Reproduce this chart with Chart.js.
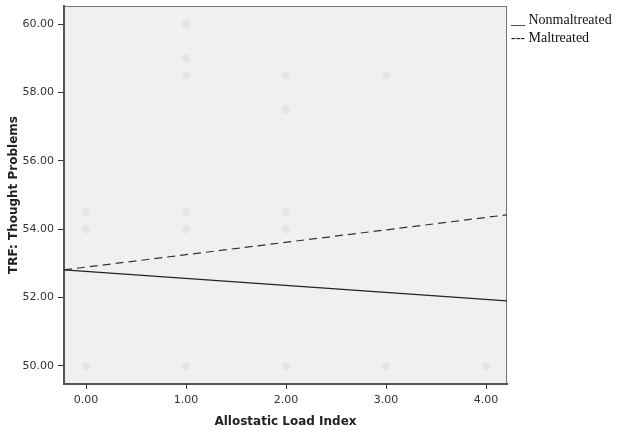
<!DOCTYPE html>
<html>
<head>
<meta charset="utf-8">
<script src="https://cdn.jsdelivr.net/npm/chart.js@4/dist/chart.umd.min.js"></script>
<style>
  html, body { margin: 0; padding: 0; background: #fff; }
  #wrap { position: relative; width: 624px; height: 431px; }
  .legend { position: absolute; left: 511px; font-family: "Liberation Serif", "DejaVu Serif", serif; font-size: 14px; color: #111; white-space: pre; }
</style>
</head>
<body>
<div id="wrap">
  <canvas id="chart" width="624" height="431"></canvas>
  <div class="legend" style="top:12px">__ Nonmaltreated</div>
  <div class="legend" style="top:30px">--- Maltreated</div>
</div>
<script>
// Scatter points (allostatic load, TRF score)
const pointX = [0, 0, 0, 1, 1, 1, 1, 1, 1, 2, 2, 2, 2, 2, 3, 3, 4];
const pointY = [54.5, 54.0, 50.0, 60.0, 59.0, 58.5, 54.5, 54.0, 50.0, 58.5, 57.5, 54.5, 54.0, 50.0, 58.5, 50.0, 50.0];

// Fit lines, end points at the axis limits
const lineX = [-0.22, 4.21];
const nonmaltreatedY = [52.81, 51.90];
const maltreatedY = [52.81, 54.42];

const xTicks = [0, 1, 2, 3, 4];
const yTicks = [50, 52, 54, 56, 58, 60];

const points = pointX.map((x, i) => ({ x: x, y: pointY[i] }));
const nonLine = lineX.map((x, i) => ({ x: x, y: nonmaltreatedY[i] }));
const malLine = lineX.map((x, i) => ({ x: x, y: maltreatedY[i] }));

// Gray plot background and thin frame
const plotFrame = {
    id: 'plotFrame',
    beforeDraw(chart) {
        const a = chart.chartArea;
        const ctx = chart.ctx;
        ctx.save();
        ctx.fillStyle = '#f0f0f0';
        ctx.fillRect(a.left, a.top, a.right - a.left, a.bottom - a.top);
        ctx.strokeStyle = '#777';
        ctx.lineWidth = 1;
        ctx.strokeRect(a.left + 0.5, a.top + 0.5, a.right - a.left - 1, a.bottom - a.top - 1);
        ctx.restore();
    }
};

new Chart(document.getElementById('chart'), {
    type: 'scatter',
    data: {
        datasets: [
            {
                label: 'Points',
                data: points,
                backgroundColor: '#e5e5e5',
                borderWidth: 0,
                pointRadius: 4
            },
            {
                label: 'Nonmaltreated',
                type: 'line',
                data: nonLine,
                borderColor: '#222',
                borderWidth: 1.2,
                pointRadius: 0,
                fill: false
            },
            {
                label: 'Maltreated',
                type: 'line',
                data: malLine,
                borderColor: '#333',
                borderWidth: 1.2,
                borderDash: [8, 5],
                pointRadius: 0,
                fill: false
            }
        ]
    },
    options: {
        responsive: false,
        animation: false,
        layout: { padding: { left: 0, right: 117, top: 6, bottom: 0 } },
        plugins: {
            legend: { display: false },
            tooltip: { enabled: false }
        },
        scales: {
            x: {
                type: 'linear',
                min: -0.22,
                max: 4.21,
                afterBuildTicks: s => { s.ticks = xTicks.map(v => ({ value: v })); },
                afterFit: s => { s.height = 47; s.paddingLeft = 0; s.paddingRight = 0; },
                border: { display: true, color: '#555', width: 2 },
                grid: { drawOnChartArea: false, drawTicks: true, tickLength: 5, color: '#333', lineWidth: 1 },
                ticks: {
                    color: '#333',
                    font: { family: 'DejaVu Sans', size: 11 },
                    padding: 5,
                    maxRotation: 0,
                    callback: v => Number(v).toFixed(2)
                },
                title: {
                    display: true,
                    text: 'Allostatic Load Index',
                    color: '#222',
                    font: { family: 'DejaVu Sans', size: 12, weight: 'bold' },
                    padding: { top: 4, bottom: 2 }
                }
            },
            y: {
                type: 'linear',
                min: 49.47,
                max: 60.53,
                afterBuildTicks: s => { s.ticks = yTicks.map(v => ({ value: v })); },
                afterFit: s => { s.width = 64; s.paddingTop = 0; s.paddingBottom = 0; },
                border: { display: true, color: '#555', width: 2 },
                grid: { drawOnChartArea: false, drawTicks: true, tickLength: 6, color: '#333', lineWidth: 1 },
                ticks: {
                    color: '#333',
                    font: { family: 'DejaVu Sans', size: 11 },
                    padding: 4,
                    callback: v => Number(v).toFixed(2)
                },
                title: {
                    display: true,
                    text: 'TRF: Thought Problems',
                    color: '#222',
                    font: { family: 'DejaVu Sans', size: 12, weight: 'bold' },
                    padding: { top: 7, bottom: 2 }
                }
            }
        }
    },
    plugins: [plotFrame]
});
</script>
</body>
</html>
